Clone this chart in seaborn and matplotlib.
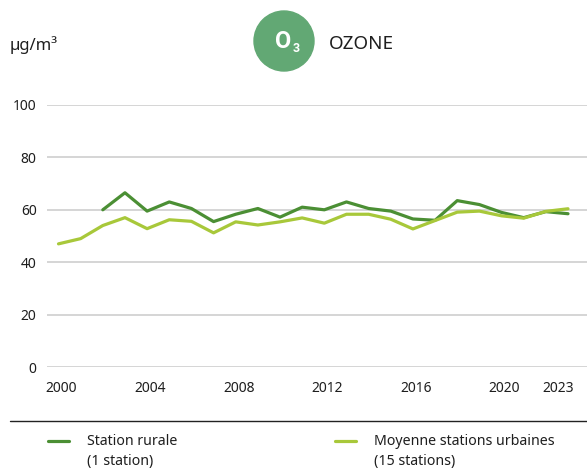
import numpy as np
import pandas as pd
import matplotlib
matplotlib.use("Agg")
import matplotlib.pyplot as plt
import matplotlib.transforms as mtrans
import seaborn as sns
from matplotlib.patches import Circle
from matplotlib.lines import Line2D

# --- data ---
years = list(range(2000, 2024))
rural = [np.nan, np.nan, 60.0, 66.5, 59.5, 63.0, 60.5, 55.5, 58.3, 60.5, 57.2, 61.0,
         60.0, 63.0, 60.5, 59.5, 56.5, 56.0, 63.5, 62.0, 59.0, 57.0, 59.3, 58.5]
urban = [47.0, 49.0, 54.0, 57.0, 52.8, 56.2, 55.6, 51.2, 55.4, 54.2, 55.4, 56.9,
         54.9, 58.3, 58.3, 56.4, 52.7, 55.9, 59.1, 59.5, 57.7, 56.8, 59.4, 60.4]
series_names = ["Station rurale", "Moyenne stations urbaines"]
legend_sub = ["(1 station)", "(15 stations)"]
x_ticks = [2000, 2004, 2008, 2012, 2016, 2020, 2023]
y_ticks = [0, 20, 40, 60, 80, 100]

colors = {"Station rurale": "#4b8f34", "Moyenne stations urbaines": "#a8c83a"}
txt = "#1e1e1e"

df = pd.DataFrame({
    "year": years * 2,
    "value": rural + urban,
    "serie": [series_names[0]] * len(years) + [series_names[1]] * len(years),
})

sns.set_style("white")
plt.rcParams["font.family"] = ["Noto Sans", "DejaVu Sans"]

W, H = 587, 469
fig = plt.figure(figsize=(W / 100, H / 100), dpi=100)
ax = fig.add_axes([47 / W, (H - 367) / H, (W - 47) / W, (367 - 105) / H])

sns.lineplot(data=df, x="year", y="value", hue="serie", palette=colors,
             linewidth=2.3, ax=ax, legend=False, zorder=3)

px_per_year = 22.15
ax.set_xlim(2000 - 11.5 / px_per_year, 2023 + 19 / px_per_year)
ax.set_ylim(0, 100)
ax.set_xticks(x_ticks)
ax.set_yticks(y_ticks)
ax.yaxis.grid(True, color="#d2d2d2", linewidth=1.3)
ax.set_axisbelow(True)
for s in ax.spines.values():
    s.set_visible(False)
ax.tick_params(axis="both", length=0, labelsize=10, colors=txt)
ax.tick_params(axis="x", pad=10)
ax.tick_params(axis="y", pad=7.5)
ax.set_xlabel("")
ax.set_ylabel("")

# x labels in the reference sit slightly right of the point, 2023 pulled left
for lab, yr in zip(ax.get_xticklabels(), x_ticks):
    dx = -10 if yr == 2023 else 3
    lab.set_transform(lab.get_transform() + mtrans.ScaledTranslation(dx / 100, 0, fig.dpi_scale_trans))

# header
fig.text(10 / W, (H - 50) / H, "µg/m³", fontsize=12, va="baseline", ha="left", color=txt)
fig.add_artist(Circle((284 / 100, (H - 41) / 100), 0.30, transform=fig.dpi_scale_trans,
                      color="#62a874", zorder=1))
fig.text(275 / W, (H - 48.5) / H, "O", fontsize=17, fontweight="bold", family="Roboto",
         color="white", ha="left", va="baseline", zorder=2)
fig.text(293 / W, (H - 52) / H, "3", fontsize=9, fontweight="bold", family="Roboto",
         color="white", ha="left", va="baseline", zorder=2)
fig.text(329 / W, (H - 49) / H, "OZONE", fontsize=13.6, va="baseline", ha="left", color=txt)

# separator line
fig.add_artist(Line2D([10 / W, 1], [(H - 421) / H] * 2, transform=fig.transFigure,
                      color="#222222", linewidth=1))

# legend
for name, sub, lx, tx in zip(series_names, legend_sub, [48, 335], [87, 374]):
    fig.add_artist(Line2D([lx / W, (lx + 21) / W], [(H - 441) / H] * 2,
                          transform=fig.transFigure, color=colors[name], linewidth=2.3))
    fig.text(tx / W, (H - 441) / H, name, fontsize=10.2, va="center", ha="left", color=txt)
    fig.text(tx / W, (H - 461) / H, sub, fontsize=10.2, va="center", ha="left", color=txt)

fig.savefig("out.png", dpi=100)
